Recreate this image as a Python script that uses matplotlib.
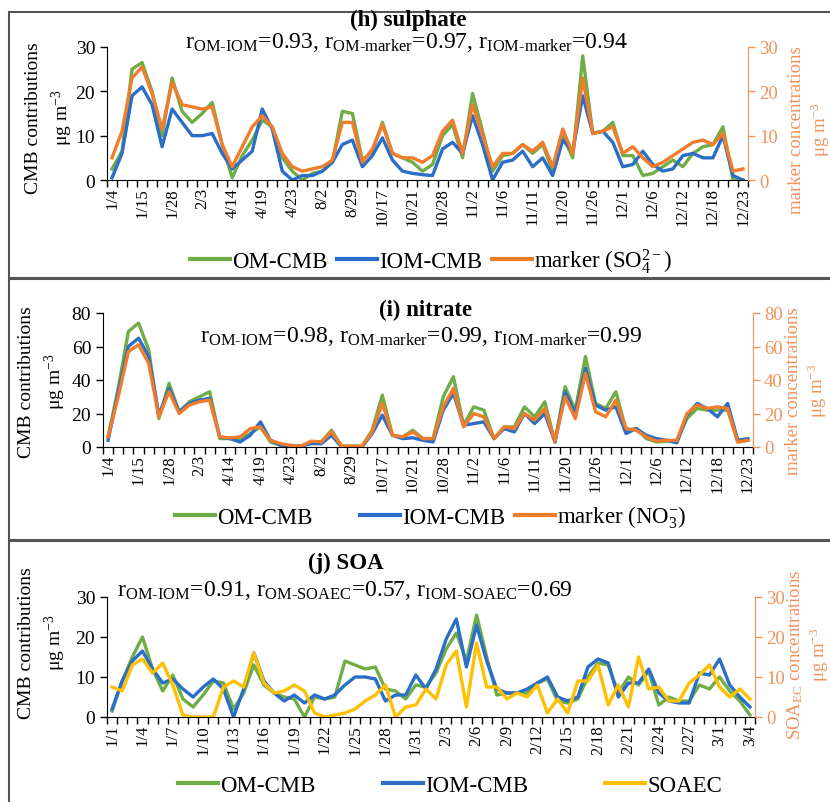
import matplotlib
matplotlib.use("Agg")
import matplotlib.pyplot as plt
from matplotlib.patches import Rectangle
from matplotlib.lines import Line2D
import numpy as np

plt.rcParams['font.family'] = ['Liberation Serif', 'DejaVu Serif']
plt.rcParams['mathtext.fontset'] = 'custom'
plt.rcParams['mathtext.rm'] = 'Liberation Serif'
plt.rcParams['mathtext.it'] = 'Liberation Serif:italic'
plt.rcParams['mathtext.bf'] = 'Liberation Serif:bold'

# ---- data ----
hi_labels = ['1/4', '1/15', '1/28', '2/3', '4/14', '4/19', '4/23', '8/2', '8/29', '10/17', '10/21',
             '10/28', '11/2', '11/6', '11/11', '11/20', '11/26', '12/1', '12/6', '12/12', '12/18', '12/23']
j_labels = ['1/1', '1/4', '1/7', '1/10', '1/13', '1/16', '1/19', '1/22', '1/25', '1/28', '1/31',
            '2/3', '2/6', '2/9', '2/12', '2/15', '2/18', '2/21', '2/24', '2/27', '3/1', '3/4']

sul_om = [2.5, 6.5, 25, 26.5, 20, 10, 23, 15.5, 13, 15, 17.5, 8, 0.5, 5.5, 9, 13.5, 12, 5, 2, 0, 1.5, 2,
          4, 15.5, 15, 4.5, 6.5, 13, 6, 5, 4, 2,
          3.5, 10, 12.5, 5, 19.5, 11, 2, 5.5, 6, 8, 6, 8, 2, 10, 5, 28, 10.5, 11, 13, 5.5, 5.5, 1,
          1.5, 3, 4.5, 3, 6, 7.5, 8, 12, 0, 0]
sul_iom = [0.5, 6, 19, 21, 17, 7.5, 16, 13, 10, 10, 10.5, 6, 2.5, 4.5, 6.5, 16, 11.5, 2, 0, 1, 1, 2,
           4, 8, 9, 3, 5.5, 9.5, 4.5, 2, 1.5, 1.2,
           1, 7, 8.5, 6, 14.5, 8, 0, 4, 4.5, 6.5, 3, 5, 1, 9, 6.5, 19, 10.5, 11, 8.5, 3, 3.5, 6.5,
           3.5, 2, 2.5, 5.5, 6, 5, 5, 10, 1, 0]
sul_marker = [5, 11, 23, 25.5, 19.5, 11.5, 22, 17, 16.5, 16, 16.5, 8, 3, 7.5, 12, 14.5, 12, 6, 3, 2,
              2.5, 3, 4.5, 13, 13, 4, 7, 12.5, 6, 5, 5, 4,
              5.5, 11, 13.5, 6, 17, 10, 3, 6, 6, 8, 6.5, 8.5, 3, 11.5, 6, 23, 10.5, 11, 12, 6, 7.5, 5,
              3, 4, 5.5, 7, 8.5, 9, 8, 10.5, 2, 2.5]

nit_om = [6, 35, 69, 74, 58, 17, 38, 21, 27, 30, 33, 5, 5, 5, 8, 12, 3, 1, 0.5, 0.5, 3, 3, 10, 0.5,
          0.5, 0.5, 10, 31, 7, 6, 10,
          5, 5, 30, 42, 13, 24, 22, 5, 12, 12, 24, 18, 27, 3, 36, 22, 54, 26, 23, 33, 10, 11, 5, 3,
          3.5, 3.5, 17, 23, 22, 22, 22, 3, 4]
nit_iom = [4, 33, 60, 65, 54, 19, 35, 21, 26, 28, 29, 6, 5, 3, 7, 15, 4, 1, 0.5, 0.5, 2, 2, 7, 0, 0,
           0, 8, 19, 7, 5, 5.5,
           4, 3, 22, 32, 13, 14, 15, 5, 11, 9, 20, 14, 20, 3, 33, 20, 47, 25, 22, 24, 8, 11, 7, 5, 4,
           2.5, 19, 26, 23, 18, 26, 4, 5]
nit_marker = [6, 30, 57, 61, 50, 18, 33, 20, 25, 27, 28, 6, 5.5, 6, 11, 12, 4, 2, 1, 0.5, 3.5, 3, 9,
              0.5, 0.5, 0.5, 9, 26, 7, 6, 9,
              5, 5, 24, 35, 12, 20, 18, 5, 12, 11, 20, 16, 23, 3.5, 30, 17, 44, 21, 18, 28, 11, 10, 6,
              3.5, 4, 4, 20, 25, 23, 24, 23, 3, 4]

soa_om = [1.5, 9, 15, 20, 12, 6.5, 10.5, 4.5, 2.5, 5.5, 9, 8.5, 2, 6, 13, 8, 6, 5, 4.5, 0, 5, 4.5, 5,
          14, 13, 12, 12.5, 7, 6.5, 4.5, 8,
          7.5, 11, 17, 21, 14, 25.5, 15, 5.5, 6, 6, 6, 8.5, 9.5, 4, 3.5, 4.5, 10, 13.5, 13, 6, 10, 8,
          11.5, 3, 5, 4, 4, 8, 7, 10, 6.5, 4, 0.5]
soa_iom = [2, 9, 14, 16.5, 12, 8.5, 9.5, 7, 5, 7.5, 9.5, 7, 0, 7, 16, 9, 6, 4, 5.5, 3.5, 5.5, 4.5, 5.5,
           8, 10, 10, 9.5, 4, 5.5, 5.5, 10.5,
           7, 12, 19.5, 24.5, 12.5, 23, 14, 7, 6, 6, 7, 8.5, 10, 5, 4, 5, 12.5, 14.5, 13.5, 5, 8.5,
           8.5, 12, 6, 4, 3.5, 3.5, 11, 10.5, 14.5, 8, 5, 2.5]
soaec = [7.5, 6.5, 13, 14.5, 11, 13.5, 8, 0.5, 0, 0, 0, 7.5, 9, 7.5, 16, 8.5, 6, 6.5, 8, 6.5, 1, 0,
         0.5, 1, 2, 4, 5.5, 8, 0, 2.5, 3,
         7, 4.5, 13, 16.5, 2.5, 18.5, 7.5, 7.5, 4.5, 6, 5, 8, 1, 4.5, 1, 9, 9, 13, 3, 8, 2.5, 15, 7,
         7.5, 4, 4, 8.5, 10.5, 13, 7.5, 5, 7, 4.5]

GREEN = '#70AD47'
BLUE = '#2A6EC8'
ORANGE = '#F07C2C'
YELLOW = '#FFC000'
RCOL = '#F4915A'

W, H = 830, 803


def fx(x):
    return x / W


def fy(y):
    return 1 - y / H


fig = plt.figure(figsize=(8.3, 8.03), dpi=100)

# panel frames
for top, bot in [(13, 279), (280, 541), (542, 806)]:
    fig.add_artist(Rectangle((fx(9), fy(bot)), 1.0, (bot - top) / H, transform=fig.transFigure,
                             fill=False, ec='#555555', lw=1.5))


def draw_panel(rect, left_series, right_series, ymax, ystep, labels, title, title_xy, corr, corr_xy,
               llab_xy, rlab, rlab_xy, leg_y, leg_x):
    x0, y0, x1, y1 = rect
    ax = fig.add_axes([fx(x0), fy(y1), (x1 - x0) / W, (y1 - y0) / H])
    ax.patch.set_alpha(0)
    ax2 = ax.twinx()
    handles = []
    for vals, col, lab in left_series:
        h, = ax.plot(np.arange(len(vals)), vals, color=col, lw=2.4, label=lab)
        handles.append(h)
    for vals, col, lab in right_series:
        h, = ax2.plot(np.arange(len(vals)), vals, color=col, lw=2.4, label=lab)
        handles.append(h)
    for a in (ax, ax2):
        a.set_xlim(-0.5, 63.5)
        a.set_ylim(0, ymax)
        a.set_yticks(np.arange(0, ymax + 1, ystep))
    ax.set_xticks(np.arange(0, 64, 3))
    ax.set_xticklabels(labels, rotation=90, fontsize=12)
    ax.set_xticks(np.arange(-0.5, 64, 1), minor=True)
    ax.tick_params(axis='x', which='major', length=0, pad=5)
    ax.tick_params(axis='x', which='minor', length=5, width=1, direction='out')
    ax.tick_params(axis='y', labelsize=14, length=5, width=1, direction='out')
    ax2.tick_params(axis='y', labelsize=13.5, length=5, width=1, direction='out', colors=RCOL, pad=3)
    for s in ('top', 'right'):
        ax.spines[s].set_visible(False)
    for s in ('top', 'left', 'bottom'):
        ax2.spines[s].set_visible(False)
    ax2.spines['right'].set_color(RCOL)
    fig.text(fx(title_xy[0]), fy(title_xy[1]), title, fontsize=16.5, fontweight='bold',
             ha='center', va='center')
    fig.text(fx(corr_xy[0]), fy(corr_xy[1]), corr, fontsize=17, ha='center', va='center')
    fig.text(fx(llab_xy[0]), fy(llab_xy[1]), 'CMB contributions\n\u03bcg m$^{-3}$', fontsize=14,
             rotation=90, ha='center', va='center', multialignment='center', linespacing=1.4)
    fig.text(fx(rlab_xy[0]), fy(rlab_xy[1]), rlab, fontsize=13.5, color=RCOL,
             rotation=90, ha='center', va='center', multialignment='center', linespacing=1.15)
    # one legend per entry, placed where the reference has it
    for h, xs in zip(handles, leg_x):
        fig.legend([Line2D([], [], color=h.get_color(), lw=3)], [h.get_label()], loc='center left',
                   bbox_to_anchor=(fx(xs), fy(leg_y)), frameon=False, fontsize=16.5,
                   handlelength=1.75, handletextpad=0.1, borderpad=0, borderaxespad=0)
    return ax, ax2


draw_panel((107, 48, 748, 181),
           [(sul_om, GREEN, 'OM-CMB'), (sul_iom, BLUE, 'IOM-CMB')],
           [(sul_marker, ORANGE, 'marker (SO$_4^{2-}$)')],
           30, 10, hi_labels, '(h) sulphate', (408, 20),
           'r$_{\\mathrm{OM\\text{-}IOM}}$=0.93, r$_{\\mathrm{OM\\text{-}marker}}$=0.97, '
           'r$_{\\mathrm{IOM\\text{-}marker}}$=0.94', (406, 43),
           (50, 118), 'marker concentrations\n\u03bcg m$^{-3}$', (810, 130), 262, (190, 337, 492))

draw_panel((103, 314, 753, 448),
           [(nit_om, GREEN, 'OM-CMB'), (nit_iom, BLUE, 'IOM-CMB')],
           [(nit_marker, ORANGE, 'marker (NO$_3^{-}$)')],
           80, 20, hi_labels, '(i) nitrate', (426, 310),
           'r$_{\\mathrm{OM\\text{-}IOM}}$=0.98, r$_{\\mathrm{OM\\text{-}marker}}$=0.99, '
           'r$_{\\mathrm{IOM\\text{-}marker}}$=0.99', (421, 337),
           (43, 382), 'marker concentrations\n\u03bcg m$^{-3}$', (807, 391), 518, (175, 360, 515))

draw_panel((107, 598, 755, 718),
           [(soa_om, GREEN, 'OM-CMB'), (soa_iom, BLUE, 'IOM-CMB')],
           [(soaec, YELLOW, 'SOAEC')],
           30, 10, j_labels, '(j) SOA', (346, 563),
           'r$_{\\mathrm{OM\\text{-}IOM}}$=0.91, r$_{\\mathrm{OM\\text{-}SOAEC}}$=0.57, '
           'r$_{\\mathrm{IOM\\text{-}SOAEC}}$=0.69', (345, 590),
           (43, 643), 'SOA$_{\\mathrm{EC}}$ concentrations\n\u03bcg m$^{-3}$', (808, 655), 786,
           (178, 383, 605))

fig.savefig('out.png', dpi=100)
